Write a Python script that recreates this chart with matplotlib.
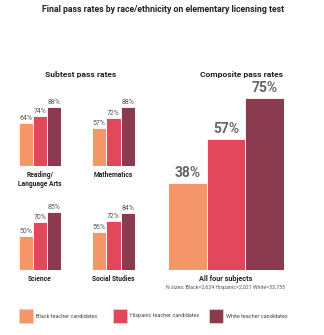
import matplotlib
matplotlib.use("Agg")
import matplotlib.pyplot as plt
from matplotlib.patches import Rectangle

plt.rcParams['font.family'] = ['Liberation Sans Narrow', 'Roboto', 'DejaVu Sans']

groups = ['Black teacher candidates', 'Hispanic teacher candidates', 'White teacher candidates']
colors = ['#F4956A', '#E2475C', '#8A3B50']

subjects = ['Reading/\nLanguage Arts', 'Mathematics', 'Science', 'Social Studies']
subtest_rates = [
    [64, 74, 88],
    [57, 72, 88],
    [50, 70, 85],
    [56, 72, 84],
]
composite_label = 'All four subjects'
composite_rates = [38, 57, 75]
n_note = 'N sizes: Black=2,624 Hispanic=2,021 White=33,735'

W, H = 324, 335
fig = plt.figure(figsize=(W / 100, H / 100), dpi=100)


def add_ax(x0, x1, base, h100):
    return fig.add_axes([x0 / W, 1 - base / H, (x1 - x0) / W, h100 / H])


def bar_panel(ax, vals, fs, weight, color):
    ax.bar(range(3), vals, width=1.0, color=colors, edgecolor='white', linewidth=0.6)
    for i, v in enumerate(vals):
        ax.text(i, v + 1.5, f'{v}%', ha='center', va='bottom', fontsize=fs,
                color=color, fontweight=weight)
    ax.set_xlim(-0.5, 2.5)
    ax.set_ylim(0, 100)
    ax.axis('off')


# subtest panels: (x0, x1, baseline, px for 100%)
layout = [(19, 61, 166, 67), (92, 135, 166, 67), (19, 61, 270, 68), (92, 135, 270, 68)]
for (x0, x1, base, h), subj, vals in zip(layout, subjects, subtest_rates):
    ax = add_ax(x0, x1, base, h)
    bar_panel(ax, vals, 5, 'normal', '#555555')
    fig.text((x0 + x1) / 2 / W, 1 - (base + 5) / H, subj, ha='center', va='top',
             fontsize=4.8, fontweight='bold', color='#222222', linespacing=1.2)

ax = add_ax(168, 284, 270, 229)
bar_panel(ax, composite_rates, 10, 'semibold', '#666666')
fig.text(226 / W, 1 - 275 / H, composite_label, ha='center', va='top',
         fontsize=5.2, fontweight='bold', color='#222222')
fig.text(226 / W, 1 - 285 / H, n_note, ha='center', va='top',
         fontsize=3.8, color='#555555')

fig.text(163 / W, 1 - 10 / H, 'Final pass rates by race/ethnicity on elementary licensing test',
         ha='center', va='center', fontsize=6.3, fontweight='bold', color='#222222')
fig.text(81 / W, 1 - 75 / H, 'Subtest pass rates', ha='center', va='center',
         fontsize=6.1, fontweight='bold', color='#222222')
fig.text(241 / W, 1 - 75 / H, 'Composite pass rates', ha='center', va='center',
         fontsize=6.1, fontweight='bold', color='#222222')

# legend
for x, lab, c in zip([19, 113, 209], groups, colors):
    fig.patches.append(Rectangle((x / W, 1 - 323 / H), 14 / W, 14 / H,
                                 transform=fig.transFigure, facecolor=c,
                                 edgecolor='#f3c9c0', linewidth=0.6))
    fig.text((x + 17) / W, 1 - 316 / H, lab, ha='left', va='center',
             fontsize=4.0, color='#444444')

fig.savefig('out.png', dpi=100, facecolor='white')
